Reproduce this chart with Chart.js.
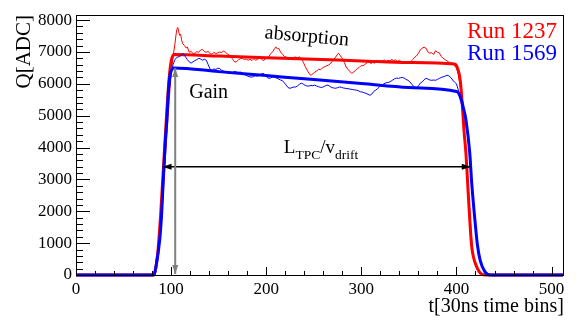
<!DOCTYPE html>
<html>
<head>
<meta charset="utf-8">
<script src="https://cdn.jsdelivr.net/npm/chart.js@4.4.0/dist/chart.umd.min.js"></script>
<style>
html, body { margin: 0; padding: 0; background: #fff; }
</style>
</head>
<body>
<canvas id="myChart" width="581" height="323"></canvas>
<script>
// measured pulse, run 1237 (red)
var tRed = [0, 80, 82, 84, 86, 88, 90, 92, 94, 96, 98, 100, 102, 104, 105, 106, 107, 108, 109, 110, 111, 112, 114, 116, 117, 119, 121, 123, 125, 127, 129, 131, 133, 135, 137, 139, 141, 143, 145, 147, 149, 151, 153, 155, 157, 159, 161, 163, 165, 167, 169, 171, 173, 175, 177, 179, 181, 183, 185, 187, 189, 191, 193, 195, 197, 199, 201, 203, 205, 207, 209, 210, 212, 213, 215, 217, 219, 221, 223, 225, 227, 229, 231, 233, 235, 237, 239, 241, 243, 245, 247, 249, 251, 253, 255, 257, 259, 261, 263, 265, 267, 269, 271, 273, 275, 276, 278, 280, 282, 284, 286, 288, 290, 292, 294, 296, 298, 300, 302, 304, 306, 308, 310, 312, 314, 316, 318, 320, 322, 324, 326, 328, 330, 332, 334, 336, 338, 340, 342, 344, 346, 348, 350, 352, 354, 356, 358, 360, 362, 364, 366, 368, 370, 372, 374, 376, 378, 380, 382, 384, 386, 388, 390, 392, 394, 396, 398, 400, 402, 404, 406, 408, 410, 412, 414, 416, 418, 420, 423, 426, 430, 512];
var qRed = [0, 0, 30, 250, 600, 1100, 1800, 2700, 3700, 4600, 5500, 6300, 6850, 7250, 7500, 7700, 7770, 7640, 7520, 7560, 7380, 7270, 7200, 7120, 7160, 6990, 7020, 6950, 6960, 7010, 6990, 7060, 7080, 7010, 6990, 7020, 6940, 6930, 6990, 6950, 6970, 7000, 6980, 7030, 6990, 6940, 6900, 6840, 6760, 6680, 6700, 6760, 6790, 6800, 6760, 6780, 6740, 6770, 6730, 6790, 6740, 6770, 6810, 6780, 6720, 6790, 6800, 6870, 6950, 7020, 7110, 7160, 7090, 7120, 7000, 6930, 6860, 6840, 6810, 6780, 6800, 6830, 6840, 6810, 6850, 6780, 6680, 6540, 6430, 6320, 6270, 6310, 6370, 6400, 6460, 6440, 6500, 6530, 6560, 6580, 6620, 6690, 6760, 6840, 6930, 6960, 6880, 6800, 6680, 6530, 6450, 6380, 6330, 6370, 6430, 6480, 6520, 6580, 6560, 6620, 6660, 6680, 6640, 6670, 6650, 6700, 6680, 6720, 6710, 6750, 6700, 6740, 6720, 6760, 6730, 6750, 6700, 6740, 6690, 6660, 6680, 6640, 6660, 6700, 6760, 6830, 6880, 6960, 7060, 7120, 7150, 7120, 7000, 6960, 6980, 6920, 7040, 6990, 6970, 6860, 6800, 6760, 6720, 6680, 6660, 6640, 6560, 6500, 6300, 5900, 5300, 4500, 3800, 2900, 2000, 1100, 550, 280, 100, 30, 0, 0];

// measured pulse, run 1569 (blue)
var tBlue = [0, 80, 82, 84, 86, 88, 90, 92, 94, 96, 98, 100, 102, 104, 106, 108, 110, 112, 113, 115, 117, 119, 121, 123, 125, 127, 129, 131, 133, 135, 137, 139, 141, 143, 145, 147, 149, 151, 153, 155, 157, 159, 161, 163, 165, 167, 169, 171, 173, 175, 177, 179, 181, 183, 185, 187, 189, 191, 193, 195, 197, 199, 201, 203, 205, 207, 209, 211, 213, 215, 217, 219, 221, 223, 225, 227, 229, 231, 233, 235, 237, 239, 241, 243, 245, 247, 249, 251, 253, 255, 257, 259, 261, 263, 265, 267, 269, 271, 273, 275, 277, 279, 281, 283, 285, 287, 289, 291, 293, 295, 297, 299, 301, 303, 305, 307, 309, 311, 313, 315, 317, 319, 321, 323, 325, 327, 329, 331, 333, 335, 337, 339, 341, 343, 345, 347, 349, 351, 353, 355, 357, 358, 360, 362, 364, 366, 368, 370, 372, 374, 376, 378, 380, 382, 384, 386, 388, 390, 392, 394, 396, 398, 400, 402, 404, 406, 408, 410, 412, 414, 416, 418, 420, 422, 424, 426, 428, 431, 436, 512];
var qBlue = [0, 0, 30, 250, 600, 1100, 1800, 2900, 4000, 5000, 5800, 6300, 6600, 6760, 6830, 6850, 6880, 6930, 6940, 6850, 6760, 6690, 6650, 6690, 6730, 6760, 6800, 6780, 6740, 6770, 6740, 6600, 6460, 6420, 6470, 6450, 6490, 6480, 6430, 6400, 6380, 6350, 6330, 6350, 6360, 6390, 6370, 6360, 6370, 6330, 6290, 6270, 6230, 6220, 6210, 6240, 6250, 6240, 6280, 6310, 6330, 6270, 6200, 6170, 6190, 6220, 6200, 6180, 6150, 6120, 6100, 6030, 5960, 5880, 5860, 5880, 5900, 5900, 5940, 5990, 6020, 5990, 5950, 5930, 5930, 5950, 5940, 5960, 5930, 5910, 5890, 5890, 5920, 5950, 5960, 5920, 5880, 5870, 5860, 5880, 5900, 5890, 5870, 5860, 5850, 5840, 5830, 5820, 5810, 5800, 5780, 5750, 5740, 5720, 5700, 5670, 5640, 5680, 5760, 5800, 5850, 5900, 5960, 5990, 6020, 6040, 6050, 6080, 6120, 6160, 6180, 6170, 6190, 6200, 6180, 6140, 6110, 6060, 5990, 5920, 5870, 5860, 5940, 6020, 6060, 6130, 6170, 6150, 6120, 6110, 6120, 6110, 6140, 6170, 6200, 6220, 6240, 6270, 6250, 6200, 6120, 6050, 6000, 5800, 5600, 5380, 5150, 4860, 4300, 3820, 2900, 2200, 1500, 950, 600, 350, 180, 80, 0, 0];

// trapezoid fits
var tRedFit = [0, 81, 83, 86, 89, 92, 95, 98, 100, 103, 150, 200, 250, 300, 350, 398, 401, 404, 406, 408, 410, 412, 414, 416, 418, 420, 424, 430, 512];
var qRedFit = [0, 0, 100, 700, 1900, 3400, 4900, 6200, 6700, 6920, 6872, 6821, 6770, 6719, 6668, 6620, 6500, 6100, 5400, 4500, 3800, 2760, 1720, 900, 550, 350, 100, 0, 0];
var tBlueFit = [0, 82, 84, 88, 90, 91.4, 94, 95.5, 97, 98.5, 100, 103, 150, 200, 250, 300, 350, 400, 402, 405, 408, 410, 414, 416, 419, 422, 425, 430, 436, 512];
var qBlueFit = [0, 0, 250, 1100, 1900, 2770, 4230, 4860, 5700, 6200, 6400, 6500, 6383, 6258, 6133, 6009, 5884, 5760, 5720, 5500, 5150, 4860, 3820, 2900, 1850, 950, 450, 100, 0, 0];

var runLabels = ['Run 1237', 'Run 1569'];
var xTickValues = [0, 100, 200, 300, 400, 500];
var yTickValues = [0, 1000, 2000, 3000, 4000, 5000, 6000, 7000, 8000];

// drift-time arrow and gain arrow
var driftFrom = 91, driftTo = 415, driftLevel = 3400;
var gainAt = 104.3, gainTop = 6500;

var serif = "'Liberation Serif', 'DejaVu Serif', serif";

function toPoints(ts, qs) {
    var pts = [];
    for (var i = 0; i < ts.length; i++) pts.push({ x: ts[i], y: qs[i] });
    return pts;
}

function drawArrow(c, x1, y1, x2, y2, color, lw, len, half) {
    c.strokeStyle = color;
    c.fillStyle = color;
    c.lineWidth = lw;
    c.beginPath();
    c.moveTo(x1, y1);
    c.lineTo(x2, y2);
    c.stroke();
    var ang = Math.atan2(y2 - y1, x2 - x1);
    [[x2, y2, ang], [x1, y1, ang + Math.PI]].forEach(function (h) {
        c.save();
        c.translate(h[0], h[1]);
        c.rotate(h[2]);
        c.beginPath();
        c.moveTo(0, 0);
        c.lineTo(-len, -half);
        c.lineTo(-len, half);
        c.closePath();
        c.fill();
        c.restore();
    });
}

const rootFrame = {
    id: 'rootFrame',
    afterDraw(chart) {
        var c = chart.ctx, a = chart.chartArea;
        var xs = chart.scales.x, ys = chart.scales.y;
        var L = Math.round(a.left), R = Math.round(a.right), T = Math.round(a.top), B = Math.round(a.bottom);
        c.save();

        // frame and inward ticks, as filled 1px rects
        c.fillStyle = '#000';
        c.fillRect(L, T, R - L, 1);
        c.fillRect(L, B, R - L + 1, 1);
        c.fillRect(L, T, 1, B - T);
        c.fillRect(R, T, 1, B - T);
        for (var v = 0; v <= 8000; v += 200) {
            var py = Math.round(ys.getPixelForValue(v));
            c.fillRect(L, py, (v % 1000 === 0) ? 14 : 7, 1);
        }
        for (var t = 0; t <= 512; t += 20) {
            var px = Math.round(xs.getPixelForValue(t));
            var lx = (t % 100 === 0) ? 8 : 4;
            c.fillRect(px, B - lx, 1, lx);
        }

        // arrows
        var yd = ys.getPixelForValue(driftLevel);
        drawArrow(c, xs.getPixelForValue(driftFrom), yd, xs.getPixelForValue(driftTo), yd, '#000', 1.5, 9, 3);
        var xg = xs.getPixelForValue(gainAt);
        drawArrow(c, xg, ys.getPixelForValue(0) - 1, xg, ys.getPixelForValue(gainTop), '#808080', 2, 9, 3);

        // annotations
        c.fillStyle = '#000';
        c.textBaseline = 'alphabetic';
        c.textAlign = 'left';
        c.font = '20px ' + serif;
        c.fillText('Gain', xs.getPixelForValue(119), ys.getPixelForValue(5550));

        c.save();
        c.translate(xs.getPixelForValue(198), ys.getPixelForValue(7430));
        c.rotate(5 * Math.PI / 180);
        c.fillText('absorption', 0, 0);
        c.restore();

        // L_TPC / v_drift
        var lx0 = xs.getPixelForValue(218.5), lb = ys.getPixelForValue(3820);
        var parts = [['L', 19, 0], ['TPC', 13.5, 6], ['/v', 19, 0], ['drift', 13.5, 6]];
        parts.forEach(function (p) {
            c.font = p[1] + 'px ' + serif;
            c.fillText(p[0], lx0, lb + p[2]);
            lx0 += c.measureText(p[0]).width;
        });

        // run labels
        c.textAlign = 'right';
        c.font = '23px ' + serif;
        c.fillStyle = '#ff0000';
        c.fillText(runLabels[0], R - 6, T + 23);
        c.fillStyle = '#0000ff';
        c.fillText(runLabels[1], R - 6, T + 45);

        // axis titles
        c.fillStyle = '#000';
        c.font = '20px ' + serif;
        c.fillText('t[30ns time bins]', R + 1, 312);
        c.save();
        c.translate(30, T);
        c.rotate(-Math.PI / 2);
        c.font = '21px ' + serif;
        c.textAlign = 'right';
        c.fillText('Q[ADC]', 0, 0);
        c.restore();

        c.restore();
    }
};

const ctx = document.getElementById('myChart').getContext('2d');

const myChart = new Chart(ctx, {
    type: 'line',
    data: {
        datasets: [{
            label: runLabels[1] + ' data',
            data: toPoints(tBlue, qBlue),
            borderColor: '#0000ff',
            borderWidth: 1,
            tension: 0,
            clip: 4
        }, {
            label: runLabels[1] + ' fit',
            data: toPoints(tBlueFit, qBlueFit),
            borderColor: '#0000ff',
            borderWidth: 3,
            cubicInterpolationMode: 'monotone',
            clip: 4
        }, {
            label: runLabels[0] + ' data',
            data: toPoints(tRed, qRed),
            borderColor: '#ff0000',
            borderWidth: 1,
            tension: 0,
            clip: 4
        }, {
            label: runLabels[0] + ' fit',
            data: toPoints(tRedFit, qRedFit),
            borderColor: '#ff0000',
            borderWidth: 3,
            cubicInterpolationMode: 'monotone',
            clip: 4
        }]
    },
    options: {
        responsive: false,
        animation: false,
        devicePixelRatio: 1,
        events: [],
        elements: { point: { radius: 0 } },
        layout: { padding: { top: 15, right: 18, left: 0, bottom: 0 } },
        plugins: {
            legend: { display: false },
            tooltip: { enabled: false }
        },
        scales: {
            x: {
                type: 'linear',
                min: 0,
                max: 512,
                afterBuildTicks: function (s) { s.ticks = xTickValues.map(function (v) { return { value: v }; }); },
                afterFit: function (s) { s.height = 48; },
                grid: { display: false, drawTicks: false },
                border: { display: false },
                ticks: {
                    font: { family: serif, size: 17 }, color: '#000', padding: 4, maxRotation: 0, autoSkip: false,
                    callback: function (v) { return String(v); }
                }
            },
            y: {
                min: 0,
                max: 8160,
                afterBuildTicks: function (s) { s.ticks = yTickValues.map(function (v) { return { value: v }; }); },
                afterFit: function (s) { s.width = 76; },
                grid: { display: false, drawTicks: false },
                border: { display: false },
                ticks: {
                    font: { family: serif, size: 17 }, color: '#000', padding: 4, autoSkip: false,
                    callback: function (v) { return String(v); }
                }
            }
        }
    },
    plugins: [rootFrame]
});
</script>
</body>
</html>
